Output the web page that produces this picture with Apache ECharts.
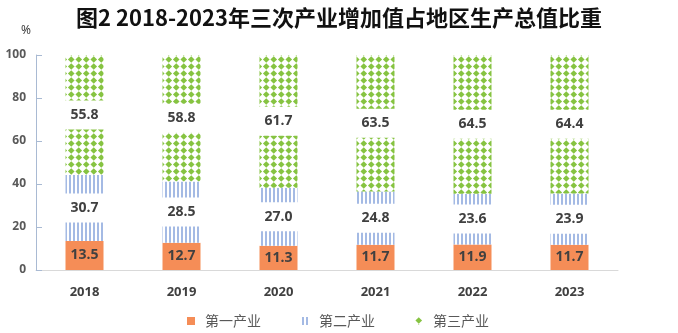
<!DOCTYPE html>
<html>
<head>
<meta charset="utf-8">
<script src="https://cdn.jsdelivr.net/npm/echarts@6/dist/echarts.min.js"></script>
<style>
html,body{margin:0;padding:0;background:#fff;}
#chart{width:678px;height:333px;}
</style>
</head>
<body>
<div id="chart"></div>
<script>
var categories = ['2018', '2019', '2020', '2021', '2022', '2023'];
var primary = [13.5, 12.7, 11.3, 11.7, 11.9, 11.7];
var secondary = [30.7, 28.5, 27.0, 24.8, 23.6, 23.9];
var tertiary = [55.8, 58.8, 61.7, 63.5, 64.5, 64.4];
var seriesNames = ['第一产业', '第二产业', '第三产业'];
var titleText = '图2 2018-2023年三次产业增加值占地区生产总值比重';

function stripeCanvas() {
  var c = document.createElement('canvas');
  c.width = 4; c.height = 4;
  var ctx = c.getContext('2d');
  ctx.fillStyle = '#ffffff';
  ctx.fillRect(0, 0, 4, 4);
  ctx.fillStyle = '#a4bae4';
  ctx.fillRect(1, 0, 2, 4);
  return c;
}
function diamondCanvas() {
  var c = document.createElement('canvas');
  var w = 15, h = 14;
  c.width = w; c.height = h;
  var ctx = c.getContext('2d');
  ctx.fillStyle = '#ffffff';
  ctx.fillRect(0, 0, w, h);
  ctx.fillStyle = '#86c341';
  var pts = [[3.75, 3.5], [11.25, 3.5], [3.75, 10.5], [11.25, 10.5]];
  pts.forEach(function (p) {
    ctx.beginPath();
    ctx.moveTo(p[0], p[1] - 3.3);
    ctx.lineTo(p[0] + 3.3, p[1]);
    ctx.lineTo(p[0], p[1] + 3.3);
    ctx.lineTo(p[0] - 3.3, p[1]);
    ctx.closePath();
    ctx.fill();
  });
  return c;
}

var chart = echarts.init(document.getElementById('chart'));
var labelBase = {
  show: true,
  position: 'inside',
  color: '#404040',
  fontSize: 14,
  fontWeight: 'bold',
  fontFamily: 'Open Sans, Noto Sans, sans-serif',
  formatter: function (p) { return p.value.toFixed(1); }
};
chart.setOption({
  animation: false,
  title: {
    text: titleText,
    left: 'center',
    top: 2,
    textStyle: { fontSize: 22, fontWeight: 'bold', color: '#111', fontFamily: 'Noto Sans CJK SC' }
  },
  graphic: [{
    type: 'text', left: 21, top: 25,
    style: { text: '%', fontSize: 12, fill: '#404040', fontFamily: 'Noto Sans' }
  }],
  legend: {
    left: 182,
    top: 309,
    itemWidth: 8,
    itemHeight: 8,
    itemGap: 40,
    icon: 'rect',
    textStyle: { fontSize: 14, color: '#595959', fontFamily: 'Noto Sans CJK SC', padding: [0, 0, 0, 5] },
    data: seriesNames
  },
  grid: { left: 36, right: 60, top: 55, bottom: 63, containLabel: false },
  xAxis: {
    type: 'category',
    data: categories,
    axisLine: { lineStyle: { color: '#d9d9d9', width: 1 } },
    axisTick: { show: false },
    axisLabel: { margin: 16, fontSize: 13, fontWeight: 'bold', color: '#404040', fontFamily: 'Open Sans, sans-serif' }
  },
  yAxis: {
    type: 'value',
    min: 0, max: 100, interval: 20,
    splitLine: { show: false },
    axisLine: { show: true, lineStyle: { color: '#a9bad3' } },
    axisTick: { show: true, inside: true, length: 6, lineStyle: { color: '#a9bad3' } },
    axisLabel: { margin: 10, fontSize: 12, fontWeight: 'bold', color: '#595959', fontFamily: 'Open Sans, sans-serif' }
  },
  series: [
    {
      name: seriesNames[0], type: 'bar', stack: 'total', barWidth: 38,
      data: primary,
      itemStyle: { color: '#f58d57' },
      label: labelBase
    },
    {
      name: seriesNames[1], type: 'bar', stack: 'total', barWidth: 38,
      data: secondary,
      itemStyle: { color: { image: stripeCanvas(), repeat: 'repeat' } },
      label: Object.assign({}, labelBase, { backgroundColor: '#ffffff', width: 39, align: 'center', padding: [8, 0, 7, 0] })
    },
    {
      name: seriesNames[2], type: 'bar', stack: 'total', barWidth: 38,
      data: tertiary,
      itemStyle: { color: { image: diamondCanvas(), repeat: 'repeat' } },
      label: Object.assign({}, labelBase, { backgroundColor: '#ffffff', width: 39, align: 'center', padding: [8, 0, 7, 0] })
    }
  ]
});
</script>
</body>
</html>
